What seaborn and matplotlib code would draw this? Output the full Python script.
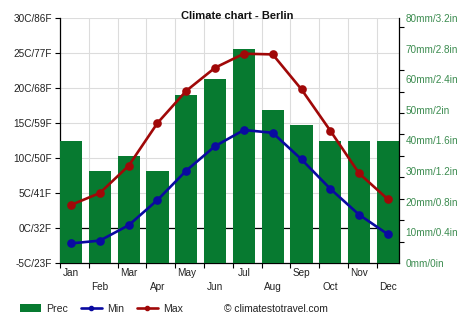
import matplotlib
matplotlib.use('Agg')
import matplotlib.pyplot as plt
import seaborn as sns
import numpy as np
from matplotlib.lines import Line2D
from matplotlib.patches import Patch

months = ['Jan', 'Feb', 'Mar', 'Apr', 'May', 'Jun', 'Jul', 'Aug', 'Sep', 'Oct', 'Nov', 'Dec']
prec = [40, 30, 35, 30, 55, 60, 70, 50, 45, 40, 40, 40]
tmin = [-2.2, -1.8, 0.4, 4.0, 8.2, 11.7, 14.0, 13.6, 9.8, 5.6, 1.9, -0.9]
tmax = [3.3, 5.0, 8.9, 15.0, 19.6, 22.9, 24.9, 24.8, 19.8, 13.9, 7.8, 4.1]
temp_ticks = [-5, 0, 5, 10, 15, 20, 25, 30]
temp_labels = ['-5C/23F', '0C/32F', '5C/41F', '10C/50F', '15C/59F', '20C/68F', '25C/77F', '30C/86F']
prec_ticks = [0, 10, 20, 30, 40, 50, 60, 70, 80]
prec_labels = ['0mm/0in', '10mm/0.4in', '20mm/0.8in', '30mm/1.2in', '40mm/1.6in',
               '50mm/2in', '60mm/2.4in', '70mm/2.8in', '80mm/3.2in']
title = 'Climate chart - Berlin'
credit = '\u00a9 climatestotravel.com'

GREEN = '#077a30'
BLUE = '#0a0aa0'
RED = '#a00808'
LABEL_GREEN = '#3c8c50'
BW = 0.77

sns.set_theme(style='white')
plt.rcParams['font.family'] = ['Liberation Sans', 'DejaVu Sans']

fig = plt.figure(figsize=(4.74, 3.31), dpi=100)
ax_t = fig.add_axes([60 / 474, 68 / 331, 339 / 474, 245 / 331])
ax_p = ax_t.twinx()
ax_l = ax_t.twinx()
ax_p.set_zorder(1)
ax_l.set_zorder(2)
ax_p.patch.set_visible(False)
ax_l.patch.set_visible(False)

sns.barplot(x=months, y=prec, ax=ax_p, color=GREEN, saturation=1, width=BW,
            linewidth=0, edgecolor=GREEN)
sns.pointplot(x=months, y=tmin, ax=ax_l, color=BLUE, markers='o', markersize=4.8,
              linewidth=1.9, errorbar=None)
sns.pointplot(x=months, y=tmax, ax=ax_l, color=RED, markers='o', markersize=4.8,
              linewidth=1.9, errorbar=None)

# temperature axis
ax_t.set_ylim(-5, 30)
ax_t.set_yticks(temp_ticks, temp_labels)
ax_t.tick_params(axis='y', left=True, length=3.6, width=0.8, color='black',
                 labelsize=7.2, pad=2.4, labelcolor='#222222')
ax_t.yaxis.grid(True, color='#dcdcdc', lw=0.8)
ax_t.axhline(0, color='black', lw=0.9, zorder=1)

# x axis (shared)
ax_t.set_xlim(-BW / 2, 11 + BW / 2)
ax_t.set_xticks(np.arange(12) - BW / 2)
ax_t.set_xticklabels([''] * 12)
ax_t.xaxis.grid(True, color='#dcdcdc', lw=0.8)
ax_t.tick_params(axis='x', bottom=True, length=3.6, width=0.8, color='black')
ax_t.set_xlabel('')
ax_t.set_ylabel('')
for i, m in enumerate(months):
    ax_t.annotate(m, xy=(i, 0), xycoords=('data', 'axes fraction'),
                  xytext=(0, -9.7 if i % 2 == 0 else -24), textcoords='offset pixels',
                  ha='center', va='center', fontsize=7.2, color='#222222')

for s in ['top', 'right']:
    ax_t.spines[s].set_visible(False)
for s in ['left', 'bottom']:
    ax_t.spines[s].set_color('black')
    ax_t.spines[s].set_linewidth(0.9)

# precipitation axis
ax_p.set_ylim(0, 80)
ax_p.set_yticks(prec_ticks, prec_labels)
ax_p.set_yticks(np.arange(0, 78, 7), minor=True)
ax_p.tick_params(axis='y', which='major', right=True, length=0, labelsize=7.2,
                 labelcolor=LABEL_GREEN, pad=4.6)
ax_p.tick_params(axis='y', which='minor', right=True, length=3.6, width=0.8, color='black')
ax_p.set_ylabel('')
for s in ['top', 'left', 'bottom']:
    ax_p.spines[s].set_visible(False)
ax_p.spines['right'].set_color('black')
ax_p.spines['right'].set_linewidth(0.9)

# lines axis
ax_l.set_ylim(-5, 30)
ax_l.set_yticks([])
ax_l.set_ylabel('')
for s in ax_l.spines.values():
    s.set_visible(False)

ax_t.set_xlim(-BW / 2, 11 + BW / 2)

fig.text(237 / 474, 1 - 16 / 331, title, ha='center', va='center',
         fontsize=8.0, fontweight='bold', color='#111111')

handles = [Patch(facecolor=GREEN, edgecolor='none'),
           Line2D([], [], color=BLUE, lw=1.9, marker='o', markersize=3),
           Line2D([], [], color=RED, lw=1.9, marker='o', markersize=3)]
fig.legend(handles, ['Prec', 'Min', 'Max'], loc='center left',
           bbox_to_anchor=(20 / 474, 1 - 309 / 331), ncol=3, frameon=False,
           fontsize=7.6, handlelength=2.0, handleheight=0.75, handletextpad=0.5,
           columnspacing=1.2, borderpad=0, borderaxespad=0)
fig.text(224 / 474, 1 - 309 / 331, credit, ha='left', va='center',
         fontsize=7.4, color='#222222')

fig.savefig('out.png', dpi=100)
